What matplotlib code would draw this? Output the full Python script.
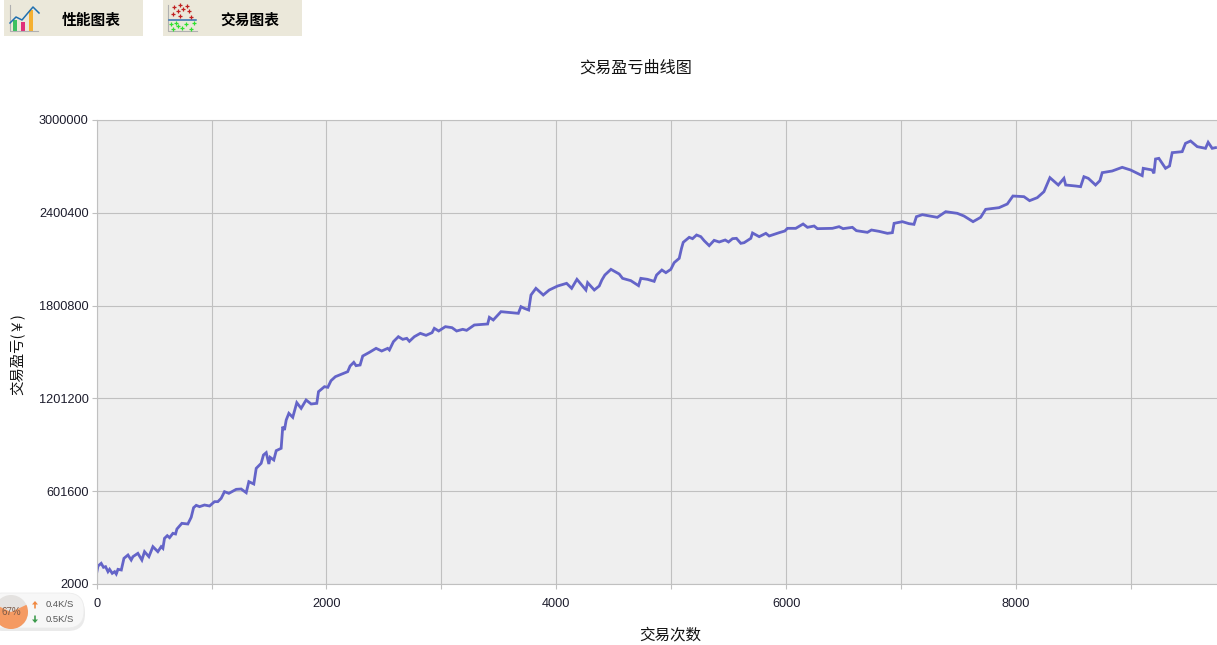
import matplotlib
matplotlib.use('Agg')
import matplotlib.pyplot as plt
from matplotlib.patches import Rectangle, FancyBboxPatch, Circle, Wedge

plt.rcParams['font.family'] = ['Noto Sans CJK SC', 'DejaVu Sans']

# trade count
trades = [0, 0, 12, 40, 60, 78, 99, 113, 136, 157, 171, 186, 215, 238, 273, 301, 316, 359, 394, 417,
          455, 490, 533, 562, 577, 591, 615, 635, 664, 687, 699, 742, 794, 823, 844, 867, 896, 939, 983, 1026,
          1055, 1084, 1113, 1151, 1215, 1258, 1302, 1325, 1368, 1389, 1432, 1452, 1476, 1499, 1510, 1542, 1563, 1606, 1620, 1635,
          1650, 1673, 1707, 1742, 1780, 1823, 1867, 1916, 1931, 1983, 2012, 2040, 2078, 2113, 2185, 2206, 2238, 2258, 2293, 2316,
          2374, 2432, 2481, 2533, 2548, 2583, 2626, 2664, 2699, 2722, 2765, 2817, 2867, 2919, 2939, 2977, 3035, 3093, 3133, 3186,
          3220, 3287, 3403, 3418, 3452, 3519, 3670, 3693, 3722, 3760, 3780, 3823, 3887, 3939, 4012, 4090, 4134, 4180, 4258, 4273,
          4331, 4374, 4397, 4423, 4476, 4548, 4577, 4649, 4716, 4736, 4794, 4852, 4873, 4919, 4954, 4997, 5026, 5070, 5090, 5105,
          5157, 5186, 5221, 5258, 5287, 5331, 5374, 5418, 5470, 5499, 5534, 5568, 5606, 5635, 5693, 5708, 5766, 5824, 5853, 5940,
          5989, 6012, 6084, 6148, 6186, 6244, 6273, 6403, 6461, 6496, 6577, 6612, 6708, 6743, 6809, 6882, 6925, 6940, 7012, 7070,
          7113, 7134, 7186, 7316, 7389, 7490, 7548, 7627, 7693, 7737, 7853, 7925, 7974, 8070, 8119, 8186, 8244, 8296, 8369, 8418,
          8433, 8520, 8563, 8592, 8630, 8693, 8731, 8751, 8838, 8925, 8998, 9099, 9108, 9186, 9201, 9215, 9244, 9302, 9337, 9360,
          9447, 9476, 9520, 9578, 9650, 9673, 9708, 9737]

# profit and loss, yuan
profit = [2000, 71000, 118000, 135500, 109700, 114000, 81700, 96800, 70900, 81700, 66600, 96800, 92500, 167800, 189400, 157100, 178600, 200100, 157100, 210900,
          178600, 243200, 210900, 243200, 232400, 297100, 314300, 301400, 329400, 325100, 357400, 394000, 389700, 432700, 495200, 510300, 501700, 512400, 506000, 534000,
          534000, 555500, 598600, 587800, 613700, 615800, 592000, 663200, 648100, 749300, 781600, 835500, 850600, 777300, 820400, 803200, 863500, 878600, 1018600, 997000,
          1061600, 1104700, 1078900, 1173600, 1137000, 1190900, 1165000, 1169300, 1244700, 1277000, 1272700, 1315800, 1341600, 1352400, 1373900, 1410500, 1434200, 1412600, 1417000, 1475100,
          1498800, 1524700, 1507400, 1524700, 1514000, 1567800, 1600000, 1582800, 1589300, 1570000, 1600000, 1621600, 1608700, 1625900, 1654000, 1636700, 1664700, 1658200, 1636700, 1647500,
          1641000, 1675500, 1682000, 1725000, 1707800, 1761600, 1750800, 1793900, 1783100, 1772300, 1869300, 1912400, 1869300, 1901600, 1927400, 1944700, 1912400, 1970500, 1901600, 1949000,
          1901600, 1927400, 1966200, 1998500, 2035100, 2004900, 1976900, 1961900, 1929600, 1976900, 1970500, 1957600, 1998500, 2030800, 2013600, 2035100, 2078200, 2106200, 2170800, 2209600,
          2241900, 2233300, 2257000, 2246200, 2220400, 2188100, 2222500, 2211800, 2224700, 2211800, 2233300, 2235400, 2203100, 2207400, 2235400, 2269900, 2246200, 2267700, 2250500, 2272000,
          2282800, 2300000, 2300000, 2328000, 2306500, 2315100, 2297900, 2300000, 2310800, 2297900, 2306500, 2284900, 2274100, 2289200, 2280600, 2267700, 2272000, 2332300, 2343100, 2330200,
          2325800, 2375400, 2388300, 2371000, 2407600, 2397000, 2379700, 2343100, 2371000, 2422800, 2433500, 2457200, 2508900, 2504600, 2478800, 2498200, 2536900, 2627400, 2580000, 2623100,
          2580000, 2573500, 2569200, 2633700, 2623100, 2580000, 2608000, 2659700, 2670500, 2694200, 2677000, 2640400, 2687800, 2677000, 2655400, 2748000, 2752300, 2687800, 2703000, 2789000,
          2795400, 2849300, 2864400, 2827800, 2817000, 2855800, 2817000, 2821300]

x_ticks = [0, 1000, 2000, 3000, 4000, 5000, 6000, 7000, 8000, 9000]
x_tick_labels = ['0', '', '2000', '', '4000', '', '6000', '', '8000', '']
y_ticks = [2000, 601600, 1201200, 1800800, 2400400, 3000000]
y_tick_labels = ['2000', '601600', '1201200', '1800800', '2400400', '3000000']
tabs = ['性能图表', '交易图表']

W, H = 1217, 645
fig = plt.figure(figsize=(W / 100, H / 100), dpi=100, facecolor='white')
ax = fig.add_axes([96.6 / W, 1 - 584 / H, (W - 96.6) / W, 464 / H], facecolor='#efefef')

ax.plot(trades, profit, color='#6464c8', lw=2.0, solid_joinstyle='miter')

ax.set_xlim(0, 9750)
ax.set_ylim(2000, 3000000)
ax.set_xticks(x_ticks)
ax.set_xticklabels(x_tick_labels)
ax.set_yticks(y_ticks)
ax.set_yticklabels(y_tick_labels)
ax.grid(True, color='#c0c0c0', lw=0.8)
ax.set_axisbelow(True)
for s in ['top', 'left', 'bottom']:
    ax.spines[s].set_color('#c0c0c0')
    ax.spines[s].set_linewidth(0.8)
ax.spines['right'].set_visible(False)
ax.tick_params(length=3.6, width=0.8, color='#c0c0c0', labelsize=9.2, labelcolor='#1c1c2c')
ax.tick_params(axis='x', pad=6.5)
ax.tick_params(axis='y', pad=2.2)
for t in ax.get_xticklabels() + ax.get_yticklabels():
    t.set_family('Liberation Sans')

fig.text(635.5 / W, 1 - 68 / H, '交易盈亏曲线图', fontsize=11.6, ha='center', va='center', color='#111111')
fig.text(670.5 / W, 1 - 635 / H, '交易次数', fontsize=11.2, ha='center', va='center', color='#111111')
fig.text(18 / W, 1 - 354 / H, '交易盈亏(￥)', fontsize=10.4, rotation=90, ha='center', va='center', color='#111111')

# overlay in pixel coordinates for the page furniture around the chart
ov = fig.add_axes([0, 0, 1, 1], facecolor='none')
ov.set_xlim(0, W)
ov.set_ylim(H, 0)
ov.axis('off')

for x0, label in zip([4, 163], tabs):
    ov.add_patch(Rectangle((x0, 0), 139, 36, color='#ebe8da', lw=0))
    ov.text(x0 + 87, 19.5, label, fontsize=10.6, fontweight='bold', ha='center', va='center', color='black')

# performance icon
ov.plot([10, 10, 38], [5, 31, 31], color='#b0b0b0', lw=0.8)
ov.add_patch(Rectangle((13, 20), 4, 11, color='#3cc060', lw=0))
ov.add_patch(Rectangle((21, 22), 4, 9, color='#e0307a', lw=0))
ov.add_patch(Rectangle((29, 10), 4, 21, color='#f5b030', lw=0))
ov.plot([10, 16, 22, 27, 33, 39], [23, 17, 20, 14, 7, 13], color='#2070b0', lw=1.1)

# trades icon
ov.plot([168, 168, 197], [5, 31, 31], color='#b0b0b0', lw=0.8)
ov.plot([169, 196], [20, 20], color='#3070b0', lw=1.1)
ov.plot([174, 180, 187, 173, 178, 183, 189, 180, 191], [7, 5, 6, 14, 11, 9, 11, 16, 17], '+', color='#c02020', ms=2.6, mew=0.9)
ov.plot([171, 176, 178, 182, 186, 194, 173, 191], [24, 23, 26, 28, 24, 23, 29, 29], '+', color='#30e030', ms=2.6, mew=0.9)

# network widget, bottom left
ov.add_patch(FancyBboxPatch((-14, 596), 99, 35, boxstyle='round,pad=0,rounding_size=17', fc='#dddddd', ec='none', alpha=0.6))
ov.add_patch(FancyBboxPatch((-14, 593), 98, 35, boxstyle='round,pad=0,rounding_size=17', fc='#f7f7f7', ec='#ececec', lw=0.6))
ov.add_patch(Circle((11, 612), 17, fc='#e4e2e0', ec='none'))
ov.add_patch(Wedge((11, 612), 17, 335, 205, fc='#f59a62', ec='none'))
ov.text(11, 612, '67%', fontsize=7, family='Liberation Sans', ha='center', va='center', color='#7a5a48')
ov.arrow(35, 608.5, 0, -4, width=1.6, head_width=6, head_length=3.5, length_includes_head=False, color='#f08840', lw=0)
ov.arrow(35, 615.5, 0, 4, width=1.6, head_width=6, head_length=3.5, length_includes_head=False, color='#3c9a4c', lw=0)
ov.text(46, 604.5, '0.4K/S', fontsize=6.8, family='Liberation Sans', ha='left', va='center', color='#555555')
ov.text(46, 619.5, '0.5K/S', fontsize=6.8, family='Liberation Sans', ha='left', va='center', color='#555555')

plt.savefig('out.png', dpi=100)
